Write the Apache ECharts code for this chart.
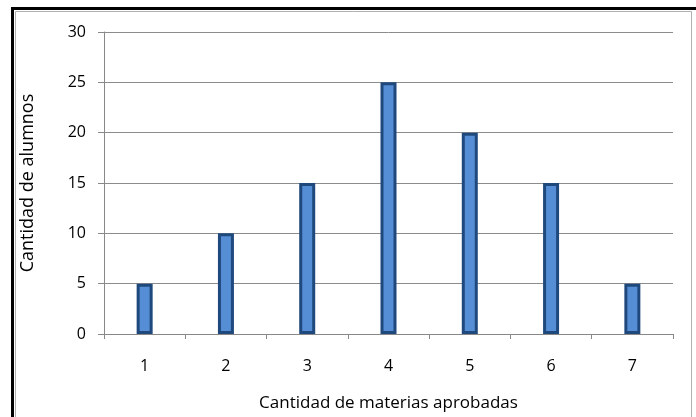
<!DOCTYPE html>
<html>
<head>
<meta charset="utf-8">
<script src="https://cdn.jsdelivr.net/npm/echarts@6/dist/echarts.min.js"></script>
<style>html,body{margin:0;padding:0;background:#fff}#c{width:696px;height:417px}</style>
</head>
<body>
<div id="c"></div>
<script>
const categories = ['1', '2', '3', '4', '5', '6', '7'];
const alumnos = [5, 10, 15, 25, 20, 15, 5];
const yTicks = { min: 0, max: 30, interval: 5 };
const xTitle = 'Cantidad de materias aprobadas';
const yTitle = 'Cantidad de alumnos';

const chart = echarts.init(document.getElementById('c'), null, { renderer: 'canvas' });
const FONT = 'Open Sans';
chart.setOption({
  animation: false,
  backgroundColor: '#fff',
  graphic: [
    { type: 'rect', shape: { x: 12.5, y: 8.5, width: 700, height: 420 }, style: { fill: 'none', stroke: '#000', lineWidth: 3 }, silent: true },
    { type: 'rect', shape: { x: 15.5, y: 11.5, width: 676, height: 420 }, style: { fill: 'none', stroke: '#b0b0b0', lineWidth: 1 }, silent: true }
  ],
  grid: { left: 104, right: 23, top: 32, bottom: 81, containLabel: false },
  xAxis: {
    type: 'category',
    data: categories,
    name: xTitle,
    nameLocation: 'middle',
    nameGap: 61,
    nameTextStyle: { fontFamily: FONT, fontSize: 17, color: '#000' },
    axisLine: { lineStyle: { color: '#888', width: 1 } },
    axisTick: { show: true, length: 5, lineStyle: { color: '#888' }, alignWithLabel: false },
    axisLabel: { fontFamily: FONT, fontSize: 16, color: '#000', margin: 24 }
  },
  yAxis: {
    type: 'value',
    min: yTicks.min, max: yTicks.max, interval: yTicks.interval,
    name: yTitle,
    nameLocation: 'middle',
    nameRotate: 90,
    nameGap: 67,
    nameTextStyle: { fontFamily: FONT, fontSize: 18, color: '#000' },
    axisLine: { show: true, lineStyle: { color: '#888', width: 1 } },
    axisTick: { show: true, length: 6, lineStyle: { color: '#888' } },
    axisLabel: { fontFamily: FONT, fontSize: 16, color: '#000', margin: 18 },
    splitLine: { show: true, lineStyle: { color: '#8c8c8c', width: 1 } }
  },
  series: [{
    type: 'bar',
    data: alumnos,
    barWidth: 16,
    itemStyle: { color: '#558ED5', borderColor: '#1F497D', borderWidth: 3 }
  }]
});
</script>
</body>
</html>
